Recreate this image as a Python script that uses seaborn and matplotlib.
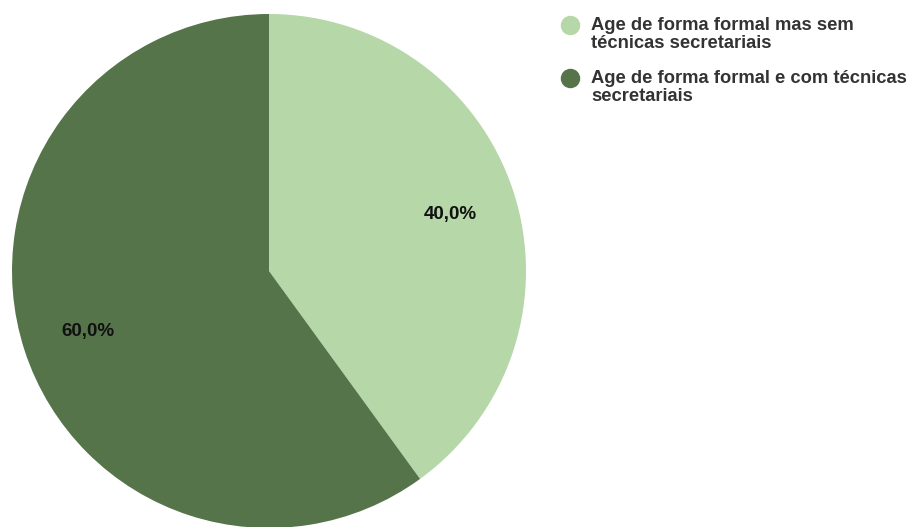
import matplotlib
matplotlib.use('Agg')
import matplotlib.pyplot as plt
import matplotlib.transforms as mtrans
from matplotlib.lines import Line2D
from matplotlib.legend_handler import HandlerLine2D
import seaborn as sns

# data
categories = ['Age de forma formal mas sem\ntécnicas secretariais',
              'Age de forma formal e com técnicas\nsecretariais']
values = [40.0, 60.0]
colors = ['#b6d7a8', '#56744a']

sns.set_theme(style='white')
plt.rcParams['font.family'] = ['Liberation Sans', 'DejaVu Sans']


class RaisedHandler(HandlerLine2D):
    # put the legend dot level with the first line of the label
    def create_artists(self, legend, orig_handle, xdescent, ydescent,
                       width, height, fontsize, trans):
        arts = super().create_artists(legend, orig_handle, xdescent, ydescent,
                                      width, height, fontsize, trans)
        shift = mtrans.ScaledTranslation(0, 0.09, legend.figure.dpi_scale_trans)
        for a in arts:
            a.set_transform(trans + shift)
        return arts


fig = plt.figure(figsize=(9.11, 5.27), dpi=100)
# square axes holding the pie, centre at (269, 271) px, radius 257 px
ax = fig.add_axes([12 / 911, -1 / 527, 514 / 911, 514 / 527])

wedges, texts, autotexts = ax.pie(
    values, colors=colors, startangle=90, counterclock=False,
    radius=1, pctdistance=0.74,
    autopct=lambda p: f'{p:.1f}%'.replace('.', ','),
    wedgeprops=dict(linewidth=0),
    textprops=dict(fontsize=13.5, fontweight='bold', color='#111111'))
for t in autotexts:
    t.set_verticalalignment('center_baseline')
ax.set_xlim(-1, 1)
ax.set_ylim(-1, 1)
ax.set_aspect('auto')
ax.axis('off')

handles = [Line2D([0], [0], marker='o', linestyle='', markersize=13,
                  markerfacecolor=c, markeredgecolor=c) for c in colors]
leg = fig.legend(handles, categories, loc='upper left',
                 bbox_to_anchor=(563 / 911, 1 - 17 / 527), frameon=False,
                 prop=dict(size=13.2, weight='bold'),
                 handletextpad=0.75, labelspacing=1.0, handlelength=0.8,
                 labelcolor='#333333', borderaxespad=0, borderpad=0,
                 handler_map={Line2D: RaisedHandler()})
for t in leg.get_texts():
    t.set_linespacing(1.05)

fig.savefig('out.png', dpi=100)
